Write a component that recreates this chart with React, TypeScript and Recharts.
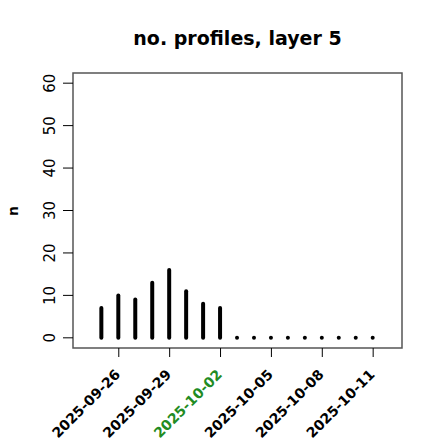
import React from 'react';
import { ComposedChart, Bar, XAxis, YAxis, ReferenceArea } from 'recharts';

const dates = [
  '2025-09-25', '2025-09-26', '2025-09-27', '2025-09-28', '2025-09-29', '2025-09-30',
  '2025-10-01', '2025-10-02', '2025-10-03', '2025-10-04', '2025-10-05', '2025-10-06',
  '2025-10-07', '2025-10-08', '2025-10-09', '2025-10-10', '2025-10-11',
];
const counts = [7, 10, 9, 13, 16, 11, 8, 7, 0, 0, 0, 0, 0, 0, 0, 0, 0];
const tickDates = ['2025-09-26', '2025-09-29', '2025-10-02', '2025-10-05', '2025-10-08', '2025-10-11'];
const highlightDate = '2025-10-02';
const yTicks = [0, 10, 20, 30, 40, 50, 60];

const data = dates.map((d, i) => ({ day: i, date: d, n: counts[i] }));
const xTicks = tickDates.map((d) => dates.indexOf(d));

const FONT = '"DejaVu Sans", sans-serif';

// thick vertical stroke with round ends, like R's type="h"
const Spike = (props: any) => {
  const { x, y, width, height } = props;
  const cx = x + width / 2;
  const top = Math.min(y, y + height);
  const h = Math.abs(height);
  return <rect x={cx - 2} y={top - 2} width={4} height={h + 4} rx={2} ry={2} fill="#000" />;
};

const XTick = ({ x, payload }: any) => {
  const label = dates[payload.value];
  const ax = x - 1;
  const ay = 372;
  return (
    <text
      x={ax}
      y={ay}
      dy="0.35em"
      textAnchor="end"
      transform={`rotate(-45, ${ax}, ${ay})`}
      fontFamily={FONT}
      fontSize={14}
      fontWeight="bold"
      fill={label === highlightDate ? '#228B22' : '#000'}
    >
      {label}
    </text>
  );
};

const YTick = ({ y, payload }: any) => (
  <text
    x={55}
    y={y}
    textAnchor="middle"
    transform={`rotate(-90, 55, ${y})`}
    fontFamily={FONT}
    fontSize={15}
    fill="#000"
  >
    {payload.value}
  </text>
);

export default function App() {
  return (
    <div style={{ position: 'absolute', left: 0, top: 0, width: 440, height: 440, background: '#fff' }}>
      <ComposedChart width={440} height={440} data={data} margin={{ top: 73, right: 38, bottom: 0, left: 0 }}>
        <XAxis
          dataKey="day"
          type="number"
          domain={[-1.7, 17.7]}
          allowDataOverflow
          ticks={xTicks}
          interval={0}
          tick={<XTick />}
          tickSize={9}
          tickLine={{ stroke: '#000' }}
          axisLine={false}
          height={92}
        />
        <YAxis
          type="number"
          domain={[-2.4, 62.4]}
          allowDataOverflow
          ticks={yTicks}
          interval={0}
          tick={<YTick />}
          tickSize={10}
          tickLine={{ stroke: '#000' }}
          axisLine={false}
          width={73}
        />
        <ReferenceArea x1={-1.7} x2={17.7} y1={-2.4} y2={62.4} fill="none" stroke="#555" strokeWidth={1.5} ifOverflow="visible" />
        <Bar dataKey="n" barSize={4} shape={<Spike />} isAnimationActive={false} />
      </ComposedChart>
      <svg width={440} height={440} style={{ position: 'absolute', left: 0, top: 0, pointerEvents: 'none' }}>
        <text x={237.5} y={45} textAnchor="middle" fontFamily={FONT} fontSize={19} fontWeight="bold" fill="#000">
          no. profiles, layer 5
        </text>
        <text x={18} y={211} textAnchor="middle" transform="rotate(-90, 18, 211)" fontFamily={FONT} fontSize={14} fontWeight="bold" fill="#000">
          n
        </text>
      </svg>
    </div>
  );
}
